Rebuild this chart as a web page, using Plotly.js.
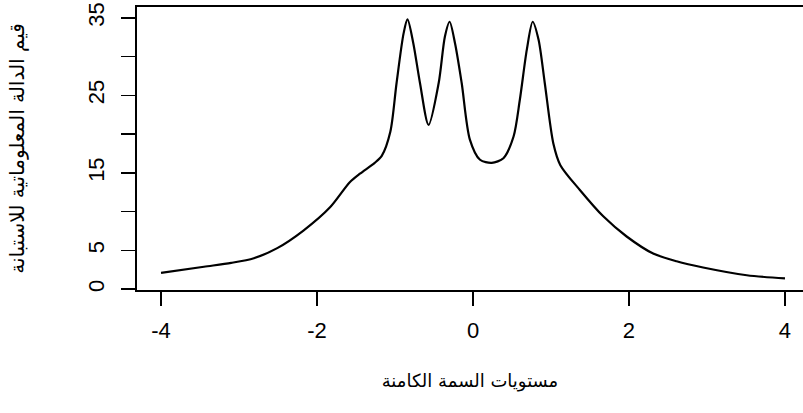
<!DOCTYPE html>
<html>
<head>
<meta charset="utf-8">
<script src="https://cdn.plot.ly/plotly-3.0.1.min.js"></script>
<style>
html,body{margin:0;padding:0;background:#fff;}
#chart{width:803px;height:413px;}
</style>
</head>
<body>
<div id="chart"></div>
<script>
// Latent trait levels (theta)
const theta = [-4.0, -3.45, -3.1, -2.81, -2.51, -2.17, -1.83, -1.58, -1.45, -1.26, -1.17,
               -1.06, -0.98, -0.89, -0.84, -0.765, -0.68, -0.57, -0.44, -0.36, -0.30,
               -0.23, -0.145, -0.04, 0.09, 0.24, 0.39, 0.52, 0.60, 0.69, 0.765,
               0.84, 0.92, 1.03, 1.12, 1.37, 1.67, 1.97, 2.31, 2.61,
               2.95, 3.51, 4.0];
// Test information function values
const info = [2.1, 2.9, 3.4, 4.0, 5.3, 7.6, 10.6, 13.8, 14.9, 16.3, 17.2,
              20.3, 26.6, 33.0, 34.8, 31.7, 26.6, 21.2, 26.6, 32.6, 34.5,
              31.7, 26.6, 19.3, 16.7, 16.3, 16.9, 19.7, 24.4, 30.9, 34.5,
              32.2, 26.6, 18.8, 16.0, 12.8, 9.4, 6.8, 4.6, 3.6,
              2.8, 1.8, 1.4];

const xTickVals = [-4, -2, 0, 2, 4];
const xTickText = ['-4', '-2', '0', '2', '4'];
const yTickVals = [0, 5, 10, 15, 20, 25, 30, 35];
const yTickText = ['0', '5', '', '15', '', '25', '', '35'];

const xTitle = 'مستويات السمة الكامنة';
const yTitle = 'قيم الدالة المعلوماتية للاستبانة';

const trace = {
  x: theta,
  y: info,
  type: 'scatter',
  mode: 'lines',
  line: {color: '#000', width: 2.2, shape: 'spline', smoothing: 0.8},
  hoverinfo: 'skip'
};

const tickFont = {family: 'Liberation Sans, Arial, sans-serif', size: 22, color: '#000'};

const layout = {
  width: 803,
  height: 413,
  margin: {l: 137, r: 0, t: 7, b: 123, pad: 0},
  paper_bgcolor: '#fff',
  plot_bgcolor: '#fff',
  showlegend: false,
  xaxis: {
    range: [-4.308, 4.231],
    tickvals: xTickVals,
    ticktext: xTickText,
    ticks: 'outside',
    ticklen: 14,
    tickwidth: 1.6,
    tickcolor: '#000',
    showline: true,
    linecolor: '#000',
    linewidth: 2,
    mirror: true,
    showgrid: false,
    zeroline: false,
    tickfont: tickFont,
    ticklabelstandoff: 6,
    automargin: false,
    title: {text: xTitle, font: {family: 'DejaVu Sans, sans-serif', size: 18, color: '#000'}, standoff: 32}
  },
  yaxis: {
    range: [-0.1, 36.4],
    tickvals: yTickVals,
    ticktext: yTickText,
    tickangle: -90,
    ticks: 'outside',
    ticklen: 14,
    tickwidth: 1.6,
    tickcolor: '#000',
    showline: true,
    linecolor: '#000',
    linewidth: 2,
    mirror: false,
    showgrid: false,
    zeroline: false,
    tickfont: tickFont,
    ticklabelstandoff: 8,
    automargin: false,
    title: {text: yTitle, font: {family: 'DejaVu Sans, sans-serif', size: 20, color: '#000'}, standoff: 54}
  }
};

Plotly.newPlot('chart', [trace], layout, {staticPlot: true, displayModeBar: false});
</script>
</body>
</html>
